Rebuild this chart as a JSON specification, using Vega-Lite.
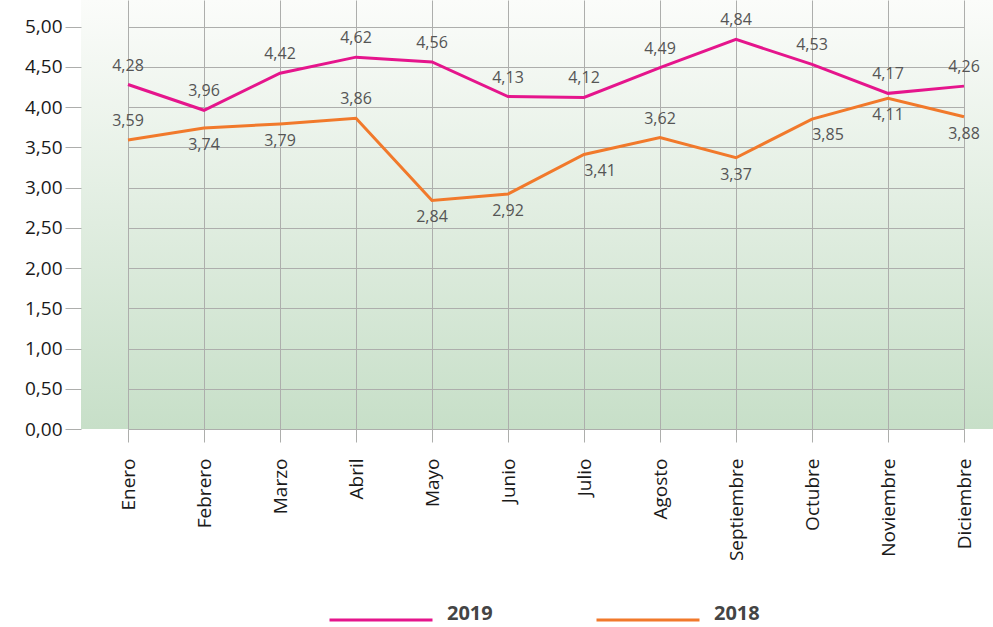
{
  "$schema": "https://vega.github.io/schema/vega-lite/v6.json",
  "width": 912,
  "height": 429,
  "autosize": {"type": "none"},
  "padding": {"left": 81, "top": 0, "right": 0, "bottom": 198},
  "background": "#ffffff",
  "config": {
    "locale": {"number": {"decimal": ",", "thousands": ".", "grouping": [3], "currency": ["", " €"]}},
    "font": "Open Sans",
    "view": {"stroke": null, "fill": {"gradient": "linear", "x1": 0, "y1": 0, "x2": 0, "y2": 1,
          "stops": [{"offset": 0, "color": "#fbfcfa"}, {"offset": 1, "color": "#c7dfc8"}]}},
    "axis": {"gridColor": "#adaeac", "gridWidth": 1, "tickColor": "#adaeac", "tickWidth": 1, "titlePadding": 0}
  },
  "datasets": {
    "d": [
      {"mes": "Enero", "serie": "2019", "valor": 4.28},
      {"mes": "Febrero", "serie": "2019", "valor": 3.96},
      {"mes": "Marzo", "serie": "2019", "valor": 4.42},
      {"mes": "Abril", "serie": "2019", "valor": 4.62},
      {"mes": "Mayo", "serie": "2019", "valor": 4.56},
      {"mes": "Junio", "serie": "2019", "valor": 4.13},
      {"mes": "Julio", "serie": "2019", "valor": 4.12},
      {"mes": "Agosto", "serie": "2019", "valor": 4.49},
      {"mes": "Septiembre", "serie": "2019", "valor": 4.84},
      {"mes": "Octubre", "serie": "2019", "valor": 4.53},
      {"mes": "Noviembre", "serie": "2019", "valor": 4.17},
      {"mes": "Diciembre", "serie": "2019", "valor": 4.26},
      {"mes": "Enero", "serie": "2018", "valor": 3.59},
      {"mes": "Febrero", "serie": "2018", "valor": 3.74},
      {"mes": "Marzo", "serie": "2018", "valor": 3.79},
      {"mes": "Abril", "serie": "2018", "valor": 3.86},
      {"mes": "Mayo", "serie": "2018", "valor": 2.84},
      {"mes": "Junio", "serie": "2018", "valor": 2.92},
      {"mes": "Julio", "serie": "2018", "valor": 3.41},
      {"mes": "Agosto", "serie": "2018", "valor": 3.62},
      {"mes": "Septiembre", "serie": "2018", "valor": 3.37},
      {"mes": "Octubre", "serie": "2018", "valor": 3.85},
      {"mes": "Noviembre", "serie": "2018", "valor": 4.11},
      {"mes": "Diciembre", "serie": "2018", "valor": 3.88}
    ]
  },
  "data": {"name": "d"},
  "layer": [
    {
      "mark": {"type": "line", "strokeWidth": 3},
      "encoding": {
        "x": {
          "field": "mes", "type": "ordinal",
          "scale": {"type": "point", "padding": 0, "domain": ["Enero","Febrero","Marzo","Abril","Mayo","Junio","Julio","Agosto","Septiembre","Octubre","Noviembre","Diciembre"], "range": [47, 883]},
          "axis": {"title": null, "grid": true, "labelAngle": -90, "labelFontSize": 19, "labelColor": "#1a1a1a", "labelPadding": 16, "tickSize": 13, "domain": false, "labelFont": "Open Sans"}
        },
        "y": {
          "field": "valor", "type": "quantitative",
          "scale": {"domain": [0, 5.33], "nice": false, "zero": true},
          "axis": {"title": null, "values": [0, 0.5, 1, 1.5, 2, 2.5, 3, 3.5, 4, 4.5, 5], "format": ".2f", "labelFontSize": 19, "labelColor": "#1a1a1a", "labelPadding": 3, "tickSize": 16, "domain": false, "labelFont": "Open Sans"}
        },
        "color": {
          "field": "serie", "type": "nominal",
          "scale": {"domain": ["2019", "2018"], "range": ["#e5158c", "#f1792b"]},
          "legend": {
            "title": null, "orient": "none", "direction": "horizontal", "legendX": 247, "legendY": 567,
            "symbolType": "stroke", "symbolSize": 10609, "symbolStrokeWidth": 3,
            "labelFontSize": 20, "labelFontWeight": "bold", "labelColor": "#444444", "labelOffset": 13,
            "labelBaseline": "alphabetic",
            "columnPadding": 97, "labelFont": "Open Sans"
          }
        }
      }
    },
    {
      "transform": [{"filter": "datum.serie == '2019' || indexof(['Enero','Abril','Agosto'], datum.mes) >= 0"}],
      "mark": {"type": "text", "dy": -19, "fontSize": 16, "color": "#555555", "baseline": "middle"},
      "encoding": {
        "x": {"field": "mes", "type": "ordinal"},
        "y": {"field": "valor", "type": "quantitative"},
        "text": {"field": "valor", "type": "quantitative", "format": ".2f"}
      }
    },
    {
      "transform": [{"filter": "datum.serie == '2018' && indexof(['Febrero','Marzo','Mayo','Junio','Septiembre','Noviembre','Diciembre'], datum.mes) >= 0"}],
      "mark": {"type": "text", "dy": 17, "fontSize": 16, "color": "#555555", "baseline": "middle"},
      "encoding": {
        "x": {"field": "mes", "type": "ordinal"},
        "y": {"field": "valor", "type": "quantitative"},
        "text": {"field": "valor", "type": "quantitative", "format": ".2f"}
      }
    },
    {
      "transform": [{"filter": "datum.serie == '2018' && indexof(['Julio','Octubre'], datum.mes) >= 0"}],
      "mark": {"type": "text", "dy": 16, "dx": 16, "fontSize": 16, "color": "#555555", "baseline": "middle"},
      "encoding": {
        "x": {"field": "mes", "type": "ordinal"},
        "y": {"field": "valor", "type": "quantitative"},
        "text": {"field": "valor", "type": "quantitative", "format": ".2f"}
      }
    }
  ]
}
